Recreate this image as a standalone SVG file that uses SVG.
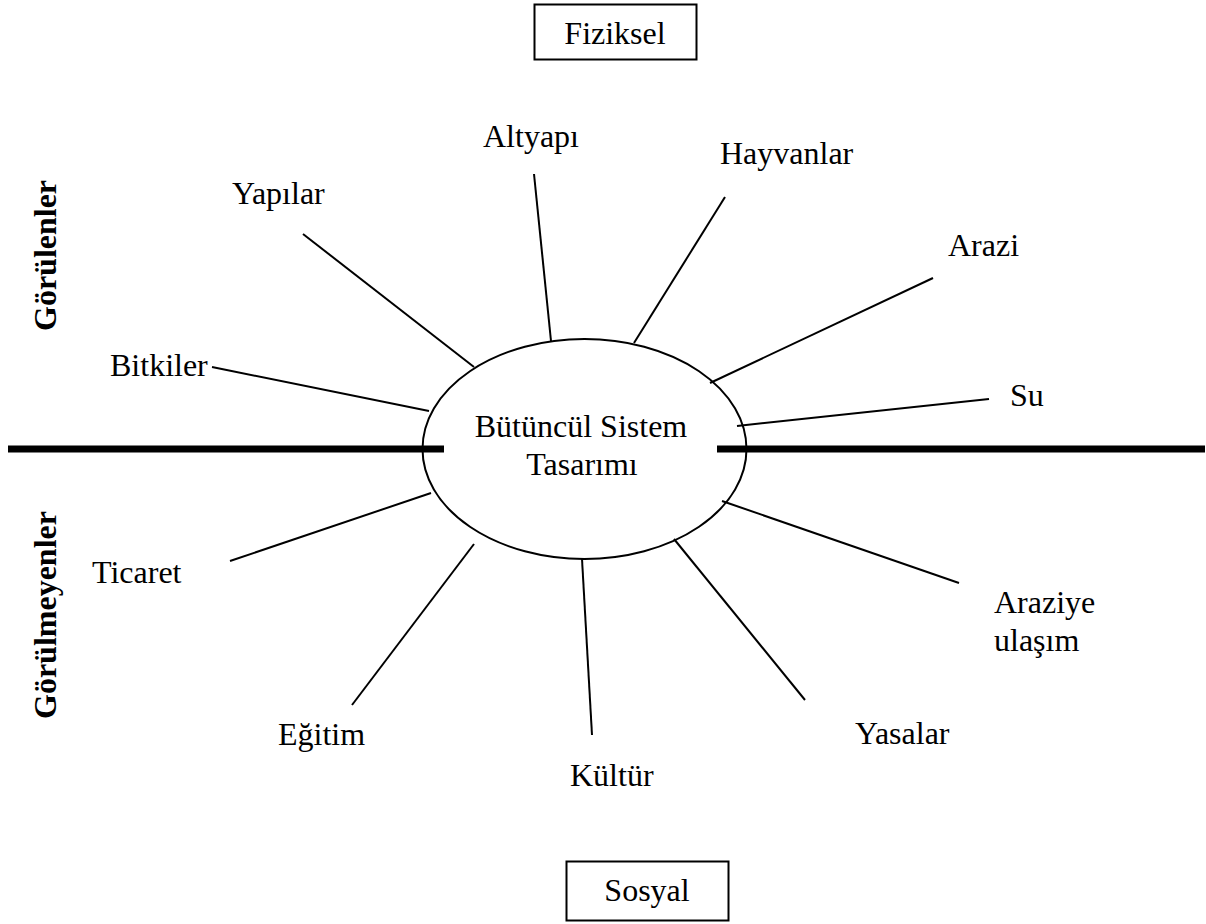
<svg xmlns="http://www.w3.org/2000/svg" width="1206" height="924" viewBox="0 0 1206 924">
<style>
text{font-family:"Liberation Serif","Times New Roman",serif;font-size:32px;fill:#000}
.b{font-weight:bold}
.l{stroke:#000;stroke-width:2;fill:none}
.h{stroke:#000;stroke-width:7;fill:none}
.n{fill:none;stroke:#000;stroke-width:2}
</style>
<rect width="1206" height="924" fill="#fff"/>
<g id="connectors">
<line class="h" x1="8" y1="449" x2="444" y2="449"/>
<line class="h" x1="717" y1="449" x2="1205" y2="449"/>
<line class="l" x1="212" y1="367" x2="429" y2="411"/>
<line class="l" x1="303" y1="234" x2="474" y2="367"/>
<line class="l" x1="534" y1="174" x2="551" y2="341"/>
<line class="l" x1="725" y1="197" x2="634" y2="343"/>
<line class="l" x1="933" y1="278" x2="710" y2="383"/>
<line class="l" x1="989" y1="399" x2="737" y2="426"/>
<line class="l" x1="959" y1="583" x2="722" y2="501"/>
<line class="l" x1="805" y1="700" x2="674" y2="539"/>
<line class="l" x1="592" y1="735" x2="582" y2="559"/>
<line class="l" x1="352" y1="705" x2="474" y2="544"/>
<line class="l" x1="230" y1="561" x2="431" y2="493"/>
</g>
<g id="center"><ellipse class="n" cx="584.5" cy="449" rx="162" ry="110"/><text x="581" y="437" text-anchor="middle">Bütüncül Sistem</text><text x="582" y="475" text-anchor="middle">Tasarımı</text></g>
<g id="fiziksel"><rect class="n" x="534.5" y="4.5" width="162" height="55"/><text x="615" y="44" text-anchor="middle">Fiziksel</text></g>
<g id="sosyal"><rect class="n" x="566.5" y="861.5" width="162" height="59"/><text x="647" y="901" text-anchor="middle">Sosyal</text></g>
<g id="n-altyapi"><text x="483" y="147">Altyapı</text></g>
<g id="n-hayvanlar"><text x="720" y="164">Hayvanlar</text></g>
<g id="n-yapilar"><text x="232" y="204">Yapılar</text></g>
<g id="n-arazi"><text x="948" y="256">Arazi</text></g>
<g id="n-bitkiler"><text x="110" y="376">Bitkiler</text></g>
<g id="n-su"><text x="1010" y="406">Su</text></g>
<g id="n-ticaret"><text x="92" y="583">Ticaret</text></g>
<g id="n-araziye"><text x="994" y="613">Araziye</text><text x="994" y="651">ulaşım</text></g>
<g id="n-egitim"><text x="278" y="745">Eğitim</text></g>
<g id="n-yasalar"><text x="855" y="744">Yasalar</text></g>
<g id="n-kultur"><text x="570" y="786">Kültür</text></g>
<g id="gorulenler"><text class="b" transform="translate(56 331) rotate(-90)">Görülenler</text></g>
<g id="gorulmeyenler"><text class="b" transform="translate(56 719) rotate(-90)">Görülmeyenler</text></g>
</svg>
